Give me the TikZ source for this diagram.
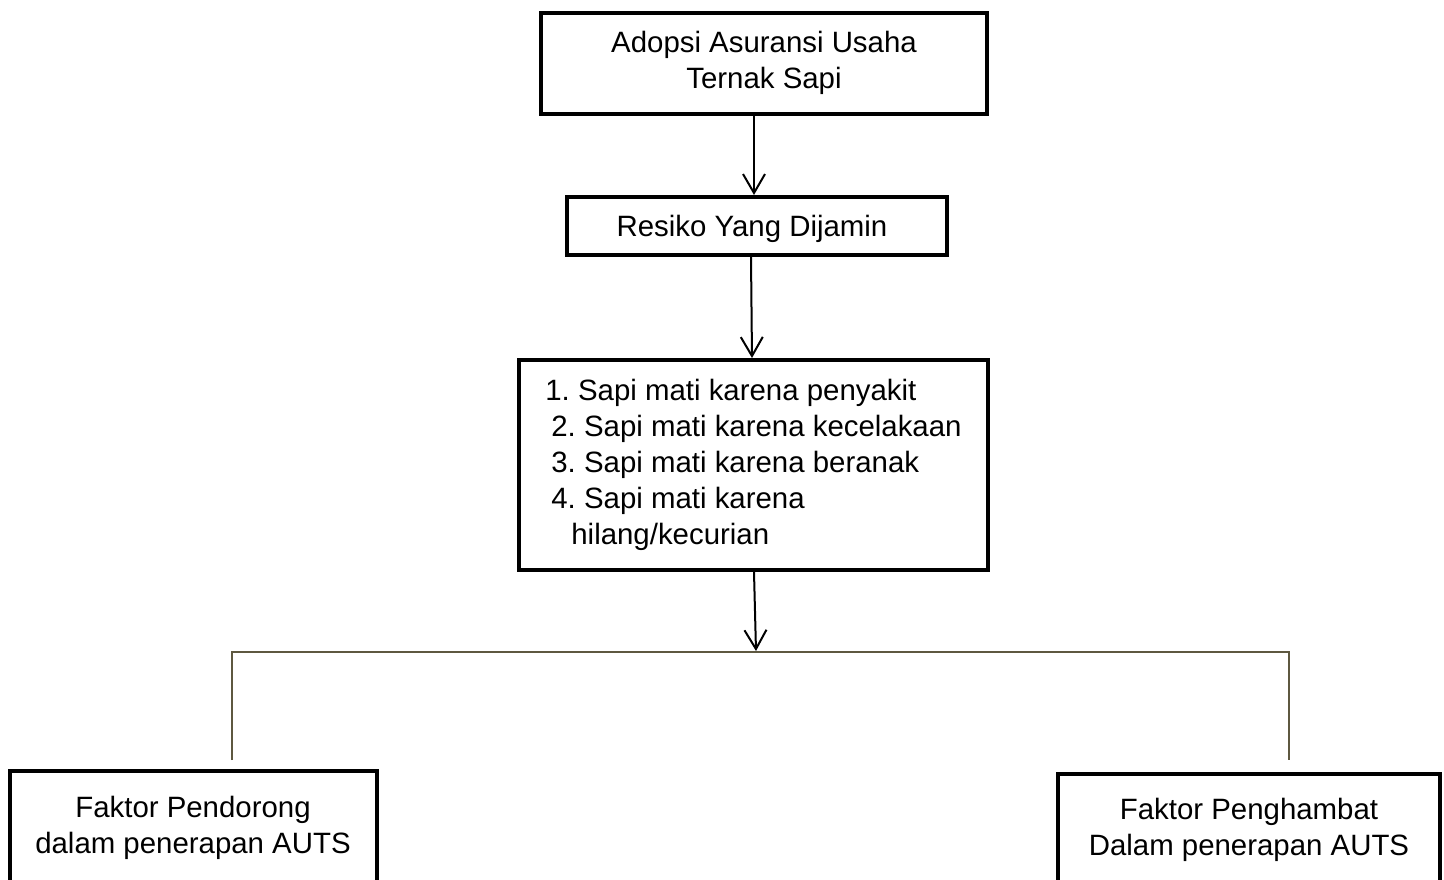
\documentclass[tikz,border=0pt]{standalone}
\usepackage{fontspec}
\setmainfont{Liberation Sans}
\usetikzlibrary{arrows.meta}
\definecolor{treeline}{RGB}{94,88,64}
\frenchspacing
\begin{document}
\begin{tikzpicture}[x=1pt,y=-1pt,
  box/.style={draw=black,line width=4pt,fill=white,inner sep=0pt,align=center,
    font=\fontsize{29.4}{36}\selectfont},
  arr/.style={line width=2pt,-{Straight Barb[length=19pt,width=22pt]}},
  tree/.style={draw=treeline,line width=2pt}]
\useasboundingbox (0,0) rectangle (1444,879);
\clip (0,0) rectangle (1444,879);
\node[box,minimum width=446pt,minimum height=101pt] (top) at (764,63)
  {Adopsi Asuransi Usaha\\Ternak Sapi};
\node[box,minimum width=380pt,minimum height=58pt,text depth=0pt] (res) at (757,226)
  {Resiko Yang Dijamin\hspace*{10pt}};
\node[box,minimum width=469pt,minimum height=210pt,align=left] (list) at (753.5,465)
  {1. Sapi mati karena penyakit\\
   \hspace*{6pt}2. Sapi mati karena kecelakaan\\
   \hspace*{6pt}3. Sapi mati karena beranak\\
   \hspace*{6pt}4. Sapi mati karena\\
   \hspace*{26pt}hilang/kecurian};
\node[box,minimum width=367pt,minimum height=113pt] (push) at (193,827.5)
  {Faktor Pendorong\\dalam penerapan AUTS};
\node[box,minimum width=382pt,minimum height=112pt] (hold) at (1249,830)
  {Faktor Penghambat\\Dalam penerapan AUTS};
\coordinate (jl) at (232,652);
\coordinate (jr) at (1289,652);
\coordinate (jlb) at (232,760);
\coordinate (jrb) at (1289,760);
\coordinate (hit) at (756,651);
\draw[tree] (jlb) -- (jl) -- (jr) -- (jrb);
\draw[arr] ([xshift=-10pt]top.south) -- ([xshift=-3pt]res.north);
\draw[arr] ([xshift=-6pt]res.south) -- ([xshift=-1.5pt]list.north);
\draw[arr] ([xshift=0.5pt]list.south) -- (hit);
\end{tikzpicture}
\end{document}
